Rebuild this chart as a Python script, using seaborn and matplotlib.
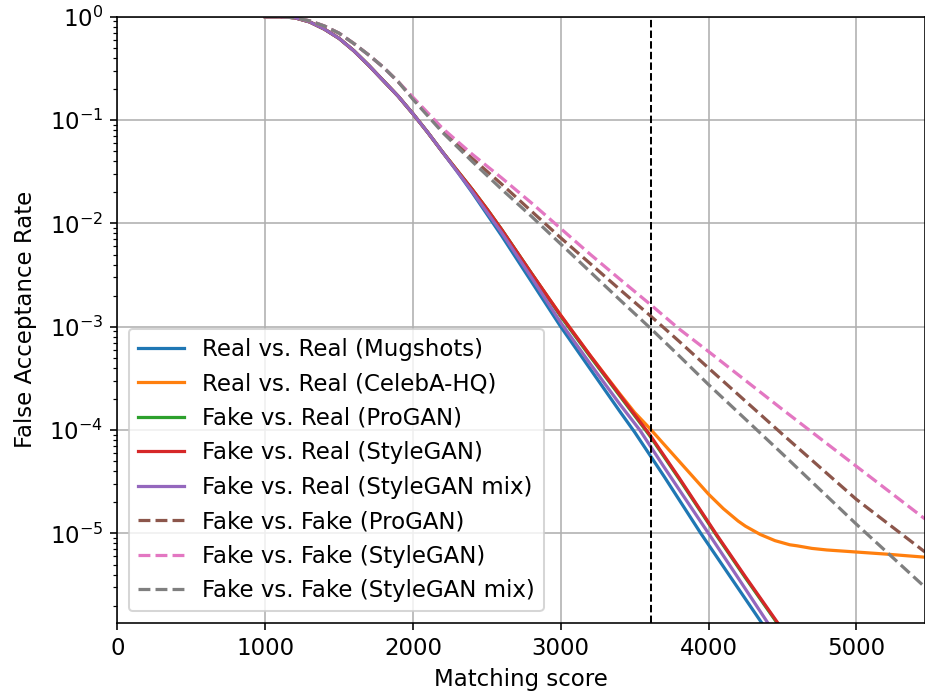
import numpy as np
import pandas as pd
import matplotlib
matplotlib.use("Agg")
import matplotlib.pyplot as plt
import seaborn as sns

# values (x = matching score, y = log10 of FAR)
score_solid = [1000, 1100, 1200, 1300, 1400, 1500, 1600, 1700, 1800, 1900,
               2000, 2100, 2200]
log_solid_top = [0.0, 0.0, -0.01, -0.05, -0.12, -0.21, -0.33, -0.47, -0.62, -0.77,
                 -0.94, -1.12, -1.31]

score_mugshots = [2300, 2400, 2600, 2800, 3000, 3200, 3400, 3500, 3700, 3948, 4200, 4400]
log_mugshots = [-1.50, -1.70, -2.12, -2.56, -3.00, -3.41, -3.82, -4.02, -4.45, -5.00,
                -5.53, -5.95]

score_mix_real = [2300, 2400, 2600, 2800, 3000, 3200, 3400, 3535, 3700, 4000, 4200, 4440]
log_mix_real = [-1.50, -1.69, -2.09, -2.52, -2.96, -3.36, -3.75, -4.00, -4.36, -5.00,
                -5.43, -5.95]

score_style_real = [2300, 2400, 2500, 2600, 2800, 3000, 3200, 3400, 3600, 3800, 4049,
                    4250, 4500]
log_style_real = [-1.49, -1.67, -1.86, -2.06, -2.48, -2.89, -3.28, -3.66, -4.04, -4.46,
                  -5.00, -5.42, -5.93]

score_pro_real = [2300, 2400, 2500, 2600, 2800, 3000, 3200, 3400, 3600, 3800, 4045,
                  4245, 4495]
log_pro_real = [-1.49, -1.67, -1.86, -2.06, -2.48, -2.90, -3.29, -3.67, -4.05, -4.47,
                -5.00, -5.42, -5.93]

score_celeba = [2300, 2400, 2500, 2600, 2800, 3000, 3200, 3400, 3500, 3600, 3700, 3800,
                3900, 4000, 4050, 4100, 4150, 4200, 4250, 4300, 4350, 4400, 4450,
                4500, 4550, 4600, 4700, 4800, 5000, 5200, 5465]
log_celeba = [-1.49, -1.67, -1.86, -2.06, -2.48, -2.89, -3.28, -3.65, -3.83, -3.98,
              -4.14, -4.30, -4.46, -4.62, -4.69, -4.76, -4.82, -4.88, -4.93, -4.97,
              -5.01, -5.04, -5.07, -5.09, -5.11, -5.12, -5.145, -5.16, -5.18, -5.20,
              -5.23]

score_dashed = [1000, 1100, 1200, 1300, 1400, 1500, 1600, 1700, 1800, 1900, 2000,
                2200, 2400, 2600, 2800, 3000, 3200, 3400, 3611, 3800, 4000, 4500,
                5000, 5465]
log_dashed_top = [0.0, 0.0, -0.01, -0.04, -0.09, -0.16, -0.26, -0.37, -0.49, -0.63]
log_pro_fake = [-0.79, -1.10, -1.37, -1.62, -1.88, -2.14, -2.39, -2.64, -2.90, -3.14,
                -3.40, -4.04, -4.67, -5.18]
log_style_fake = [-0.78, -1.08, -1.33, -1.56, -1.80, -2.05, -2.30, -2.54, -2.79, -3.02,
                  -3.24, -3.80, -4.35, -4.86]
log_mix_fake = [-0.80, -1.12, -1.40, -1.67, -1.93, -2.20, -2.47, -2.74, -3.02, -3.28,
                -3.56, -4.23, -4.91, -5.52]

threshold = 3610

labels = ["Real vs. Real (Mugshots)", "Real vs. Real (CelebA-HQ)",
          "Fake vs. Real (ProGAN)", "Fake vs. Real (StyleGAN)",
          "Fake vs. Real (StyleGAN mix)", "Fake vs. Fake (ProGAN)",
          "Fake vs. Fake (StyleGAN)", "Fake vs. Fake (StyleGAN mix)"]

series = [
    (score_solid + score_mugshots, log_solid_top + log_mugshots, "-"),
    (score_solid + score_celeba, log_solid_top + log_celeba, "-"),
    (score_solid + score_pro_real, log_solid_top + log_pro_real, "-"),
    (score_solid + score_style_real, log_solid_top + log_style_real, "-"),
    (score_solid + score_mix_real, log_solid_top + log_mix_real, "-"),
    (score_dashed, log_dashed_top + log_pro_fake, "--"),
    (score_dashed, log_dashed_top + log_style_fake, "--"),
    (score_dashed, log_dashed_top + log_mix_fake, "--"),
]

colors = sns.color_palette("tab10", 8)
plt.rcParams["font.size"] = 11.4

fig = plt.figure(figsize=(925 / 144.5, 696 / 144.5), dpi=144.5)
ax = fig.add_axes([0.127, 0.1053, 0.873, 0.8707])

for (x, logy, ls), lab, col in zip(series, labels, colors):
    df = pd.DataFrame({"score": x, "far": 10.0 ** np.array(logy)})
    sns.lineplot(data=df, x="score", y="far", ax=ax, color=col, linestyle=ls,
                 linewidth=1.6, label=lab, estimator=None, sort=False)

ax.axvline(threshold, color="k", linestyle="--", linewidth=1)

ax.set_yscale("log")
ax.set_xlim(0, 5465)
ax.set_ylim(10 ** -5.864, 1)
ax.grid(True, which="major")
ax.set_xlabel("Matching score")
ax.set_ylabel("False Acceptance Rate", labelpad=6)
ax.legend(loc="lower left")

plt.savefig("out.png", dpi=144.5)
